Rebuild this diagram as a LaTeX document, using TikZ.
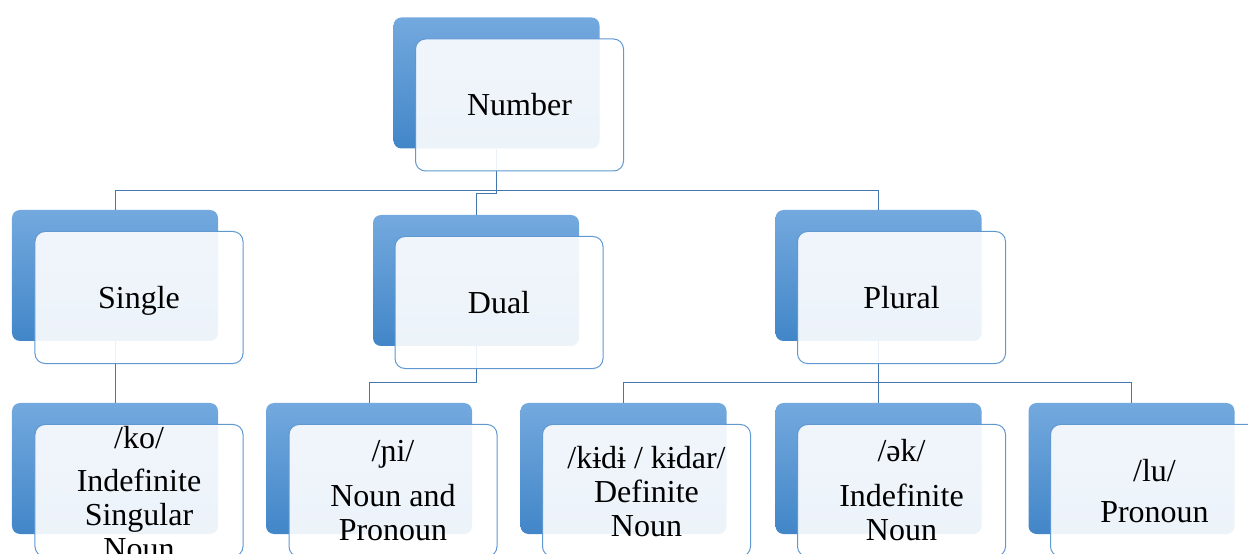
\documentclass[tikz,border=0pt]{standalone}
\usepackage{fontspec}
\setmainfont{Liberation Serif}
\definecolor{bTop}{RGB}{115,169,222}
\definecolor{bBot}{RGB}{66,134,200}
\definecolor{fBorder}{RGB}{96,152,210}
\definecolor{cLine}{RGB}{70,118,175}
\begin{document}
\begin{tikzpicture}[x=1bp,y=-1bp,
 back/.style={rectangle, rounded corners=8bp, minimum width=206bp, minimum height=131bp, top color=bTop, bottom color=bBot, draw=none, inner sep=0pt},
 front/.style={rectangle, rounded corners=10bp, minimum width=208bp, minimum height=132bp, draw=fBorder, line width=1bp, fill=white, fill opacity=0.9, inner sep=0pt},
 conn/.style={draw=cLine, line width=1bp},
 txt/.style={align=center, font=\fontsize{32bp}{34bp}\selectfont, inner sep=0pt, text=black}]
\useasboundingbox (0,0) rectangle (1248,554);
% back boxes
\node[back] (nb) at (496.5,83) {};
\node[back] (sb) at (115,275.5) {};
\node[back] (db) at (476,280.5) {};
\node[back] (pb) at (878.5,275.5) {};
\node[back] (b1) at (115,468.5) {};
\node[back] (b2) at (369,468.5) {};
\node[back] (b3) at (623.5,468.5) {};
\node[back] (b4) at (878.5,468.5) {};
\node[back] (b5) at (1131.5,468.5) {};
% bus levels
\coordinate (busA) at (0,191);
\coordinate (busD) at (0,194);
\coordinate (busL) at (0,383);
% connectors
\draw[conn] (nb.south) |- (sb.north |- busA) -- (sb.north);
\draw[conn] (nb.south) |- (pb.north |- busA) -- (pb.north);
\draw[conn] (nb.south) |- (db.north |- busD) -- (db.north);
\draw[conn] (sb.south) -- (b1.north);
\draw[conn] (db.south) |- (b2.north |- busL) -- (b2.north);
\draw[conn] (pb.south) |- (b3.north |- busL) -- (b3.north);
\draw[conn] (pb.south) -- (b4.north);
\draw[conn] (pb.south) |- (b5.north |- busL) -- (b5.north);
% front boxes
\node[front] (nf) at (519.5,105) {};
\node[front] (sf) at (139,297.5) {};
\node[front] (df) at (499,302.5) {};
\node[front] (pf) at (901.5,297.5) {};
\node[front] (f1) at (139,490.5) {};
\node[front] (f2) at (393,490.5) {};
\node[front] (f3) at (646.5,490.5) {};
\node[front] (f4) at (901.5,490.5) {};
\node[front] (f5) at (1154.5,490.5) {};
% texts
\node[txt] (tn) at (nf.center) {Number};
\node[txt] (ts) at ([yshift=-3bp]sf.center) {Single};
\node[txt] (td) at (df.center) {Dual};
\node[txt] (tp) at (pf.center) {Plural};
\node[txt] (t1) at ([yshift=-3bp]f1.center) {/ko/\\[9bp]Indefinite\\Singular\\Noun};
\node[txt] (t2) at (f2.center) {/ɲi/\\[11bp]Noun and\\Pronoun};
\node[txt] (t3) at ([yshift=-1bp]f3.center) {/kɨdɨ / kɨdar/\\Definite\\Noun};
\node[txt] (t4) at (f4.center) {/ək/\\[11bp]Indefinite\\Noun};
\node[txt] (t5) at ([yshift=-1bp]f5.center) {/lu/\\[7bp]Pronoun};
\end{tikzpicture}
\end{document}
